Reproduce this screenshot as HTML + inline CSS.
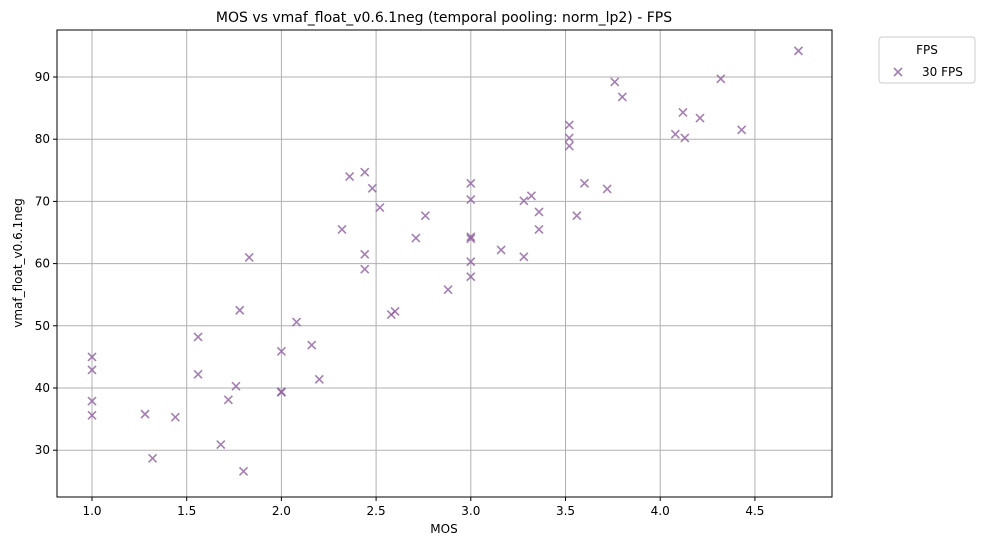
<!DOCTYPE html>
<html><head><meta charset="utf-8"><style>
body{margin:0;background:#fff;font-family:"Liberation Sans","DejaVu Sans",sans-serif}
svg text{font-family:"DejaVu Sans","Liberation Sans",sans-serif}
</style></head><body>
<svg id="c" width="985" height="545"></svg>
<script>
const mos=[1.0,1.0,1.0,1.0,1.28,1.32,1.44,1.56,1.56,1.68,1.72,1.76,1.78,1.80,1.83,2.0,2.0,2.0,2.08,2.16,2.20,2.32,2.36,2.44,2.44,2.44,2.48,2.52,2.58,2.60,2.71,2.76,2.88,3.0,3.0,3.0,3.0,3.0,3.0,3.16,3.28,3.28,3.32,3.36,3.36,3.52,3.52,3.52,3.56,3.60,3.72,3.76,3.80,4.08,4.12,4.13,4.21,4.32,4.43,4.73];
const vmaf=[45.0,42.9,37.9,35.6,35.8,28.7,35.3,48.2,42.2,30.9,38.1,40.3,52.5,26.6,61.0,45.9,39.4,39.3,50.6,46.9,41.4,65.5,74.0,74.7,61.5,59.1,72.1,69.0,51.8,52.3,64.1,67.7,55.8,72.9,70.3,64.3,64.0,60.3,57.9,62.2,70.1,61.1,70.9,68.3,65.5,82.3,80.2,78.9,67.7,72.9,72.0,89.2,86.8,80.8,84.3,80.2,83.4,89.7,81.5,94.2];
const xTicks=[1.0,1.5,2.0,2.5,3.0,3.5,4.0,4.5];
const yTicks=[30,40,50,60,70,80,90];
const L=57,R=832,T=30,B=497;
const X=v=>92+(v-1)*189.4, Y=v=>77+(90-v)*6.22;
const s=document.getElementById('c'),NS='http://www.w3.org/2000/svg';
function mk(t,a,txt){const e=document.createElementNS(NS,t);for(const k in a)e.setAttribute(k,a[k]);if(txt!=null)e.textContent=txt;s.appendChild(e);return e;}
xTicks.forEach(t=>{const x=X(t);
let g=mk('line',{x1:x,x2:x,y1:T,y2:B,stroke:'#b0b0b0','stroke-width':1});

mk('line',{x1:x,x2:x,y1:B,y2:B+4,stroke:'#000'});
let l=mk('text',{x:x,y:B+18,'text-anchor':'middle','font-size':12},t.toFixed(1));
});
yTicks.forEach(t=>{const y=Y(t);
let g=mk('line',{x1:L,x2:R,y1:y,y2:y,stroke:'#b0b0b0','stroke-width':1});

mk('line',{x1:L-4,x2:L,y1:y,y2:y,stroke:'#000'});
let l=mk('text',{x:L-7,y:y+4,'text-anchor':'end','font-size':12},t);
});
let fr=mk('rect',{x:L,y:T,width:R-L,height:B-T,fill:'none',stroke:'#000','stroke-width':1});

function cross(x,y){const d=4;const p=mk('path',{d:`M${x-d} ${y-d}L${x+d} ${y+d}M${x-d} ${y+d}L${x+d} ${y-d}`,stroke:'#8e5f9f','stroke-opacity':0.8,'stroke-width':1.6});return p;}
mos.forEach((m,i)=>{const p=cross(X(m),Y(vmaf[i]));

});
let t=mk('text',{x:444,y:22,'text-anchor':'middle','font-size':14},'MOS vs vmaf_float_v0.6.1neg (temporal pooling: norm_lp2) - FPS');

t=mk('text',{x:444,y:533,'text-anchor':'middle','font-size':12},'MOS');

t=mk('text',{x:22,y:263,'text-anchor':'middle','font-size':12,transform:'rotate(-90 22 263)'},'vmaf_float_v0.6.1neg');

let lg=mk('rect',{x:879,y:37,width:96,height:46,rx:3,fill:'#fff',stroke:'#ccc'});

t=mk('text',{x:927,y:54,'text-anchor':'middle','font-size':12},'FPS');

const lm=cross(898,72);
t=mk('text',{x:922,y:76,'font-size':12},'30 FPS');

</script>
</body></html>
